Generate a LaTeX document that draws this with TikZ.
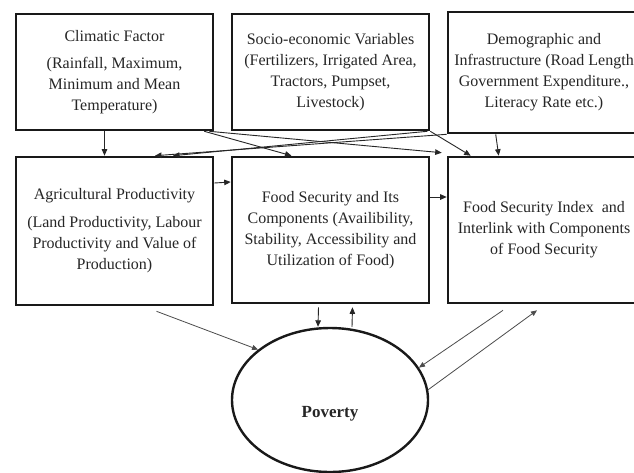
\documentclass[tikz,border=0pt]{standalone}
\usepackage{fontspec}
\setmainfont{Liberation Serif}
\usetikzlibrary{arrows.meta,shapes.geometric}
\begin{document}
\begin{tikzpicture}[x=1pt,y=-1pt,
  box/.style={draw=black!90, line width=2.6pt, fill=white, align=center,
    inner sep=0pt, text=black!85, font=\fontsize{16}{21}\selectfont},
  link/.style={draw=black!85, line width=0.9pt,
    -{Triangle[length=6.5pt,width=5.5pt]}},
  soft/.style={draw=black!70, line width=0.8pt,
    -{Triangle[length=6pt,width=5pt]}}]
\useasboundingbox (0,0) rectangle (634,472);
\clip (0,0) rectangle (634,472);
\fill[white] (0,0) rectangle (634,472);

% upper row: the influencing factors
\node[box, minimum width=197pt, minimum height=116pt] (clim) at (114.5,72)
  {Climatic Factor\\[6pt](Rainfall, Maximum,\\Minimum and Mean\\Temperature)};
\node[box, minimum width=197pt, minimum height=116pt] (socio) at (330.5,72)
  {Socio-economic Variables\\(Fertilizers, Irrigated Area,\\Tractors, Pumpset,\\Livestock)};
\node[box, minimum width=192pt, minimum height=121pt] (demo) at (544,72.5)
  {Demographic and\\Infrastructure (Road Length\\Government Expenditure.,\\Literacy Rate etc.)};

% middle row: outcomes
\node[box, minimum width=197pt, minimum height=148pt] (agri) at (114.5,231)
  {Agricultural Productivity\\[7pt](Land Productivity, Labour\\Productivity and Value of\\Production)};
\node[box, minimum width=197pt, minimum height=146pt] (fs) at (330.5,230)
  {Food Security and Its\\Components (Availibility,\\Stability, Accessibility and\\Utilization of Food)};
\node[box, minimum width=192pt, minimum height=146pt] (fsi) at (544,230)
  {Food Security Index\ \ and\\Interlink with Components\\of Food Security};

% poverty
\node[ellipse, draw=black!90, line width=2.4pt, minimum width=196pt,
  minimum height=144pt, inner sep=0pt] (pov) at (330,400) {};
\node[font=\fontsize{17}{20}\selectfont\bfseries, text=black!85] (povtext) at (330,414) {Poverty};

% factors -> outcomes
\draw[link] ([xshift=-10pt]clim.south) -- ([xshift=-10pt]agri.north);
\draw[link] ([xshift=-10pt]clim.south east) -- ([xshift=-39pt]fs.north);
\draw[link] ([xshift=-5pt]clim.south east) -- ([xshift=-5pt,yshift=3pt]fsi.north west);
\draw[link] ([xshift=-3pt]socio.south east) -- ([xshift=58.5pt]agri.north);
\draw[link] (demo.south west) -- ([xshift=40.5pt]agri.north);
\draw[link] (socio.south east) -- ([xshift=24pt]fsi.north west);
\draw[link] ([xshift=49pt]demo.south west) -- ([xshift=52pt]fsi.north west);

% outcomes -> outcomes
\draw[link] ([yshift=48pt]agri.east) -- ([yshift=48pt]fs.west);
\draw[link] ([yshift=33pt]fs.east) -- ([yshift=33pt]fsi.west);

% outcomes <-> poverty
\draw[soft] ([xshift=42pt,yshift=-5pt]agri.south) -- (pov.145);
\draw[link] ([xshift=-12pt,yshift=-3pt]fs.south) -- ([xshift=-12pt]pov.north);
\draw[link] ([xshift=22pt]pov.north) -- ([xshift=22pt,yshift=-3pt]fs.south);
\draw[soft] ([xshift=-41pt,yshift=-6pt]fsi.south) -- (pov.20);
\draw[soft] (pov.6) -- ([xshift=-7pt,yshift=-6pt]fsi.south);
\end{tikzpicture}
\end{document}
